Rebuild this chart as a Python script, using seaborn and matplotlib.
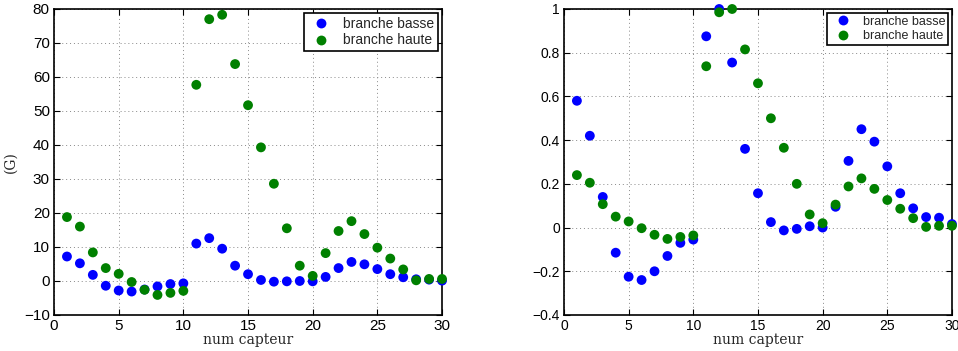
"""
Capteurs : branche basse / branche haute, valeurs brutes (G) et normalisées.
"""

import numpy as np
import pandas as pd
import matplotlib
matplotlib.use("Agg")
import matplotlib.pyplot as plt
from matplotlib.ticker import FuncFormatter
import seaborn as sns

capteurs = list(range(1, 31))

basse_G = [7.2, 5.2, 1.8, -1.4, -2.8, -3.1, -2.5, -1.6, -0.9, -0.7,
           11.0, 12.6, 9.5, 4.5, 2.0, 0.3, -0.2, -0.1, 0.0, -0.1,
           1.2, 3.8, 5.6, 4.9, 3.5, 2.0, 1.1, 0.5, 0.4, 0.1]
haute_G = [18.8, 16.0, 8.4, 3.8, 2.1, -0.3, -2.6, -4.1, -3.5, -2.9,
           57.7, 77.0, 78.3, 63.8, 51.7, 39.3, 28.6, 15.5, 4.5, 1.5,
           8.2, 14.7, 17.6, 13.8, 9.8, 6.6, 3.4, 0.2, 0.6, 0.6]

basse_norm = [0.58, 0.42, 0.14, -0.115, -0.225, -0.24, -0.20, -0.13, -0.07, -0.055,
              0.875, 1.0, 0.755, 0.36, 0.157, 0.025, -0.013, -0.006, 0.006, 0.0,
              0.095, 0.305, 0.45, 0.393, 0.28, 0.157, 0.088, 0.048, 0.045, 0.016]
haute_norm = [0.24, 0.205, 0.107, 0.05, 0.028, -0.003, -0.033, -0.052, -0.043, -0.036,
              0.738, 0.985, 1.0, 0.815, 0.66, 0.50, 0.365, 0.20, 0.06, 0.02,
              0.105, 0.188, 0.225, 0.177, 0.126, 0.086, 0.043, 0.003, 0.008, 0.008]

series = ["branche basse", "branche haute"]
couleurs = {"branche basse": (0, 0, 1), "branche haute": (0, 0.5, 0)}


def to_long(basse, haute):
    return pd.DataFrame({
        "capteur": capteurs * 2,
        "valeur": basse + haute,
        "branche": [series[0]] * len(basse) + [series[1]] * len(haute),
    })


sns.set_style("ticks")
plt.rcParams["font.family"] = ["Liberation Sans", "DejaVu Sans"]

fig = plt.figure(figsize=(9.58, 3.51), dpi=100)
ax1 = fig.add_axes([0.0564, 0.1026, 0.405, 0.8718])
ax2 = fig.add_axes([0.5887, 0.1026, 0.405, 0.8718])


def style_axes(ax, ylim, yticks, tick_size, leg_size):
    ax.set_xlim(0, 30)
    ax.set_ylim(*ylim)
    ax.set_xticks(range(0, 31, 5))
    ax.set_yticks(yticks)
    ax.yaxis.set_major_formatter(FuncFormatter(lambda v, p: ("%g" % round(v, 6)).replace("-", "\u2212")))
    ax.tick_params(direction="in", top=True, right=True, length=4, width=0.8,
                   labelsize=tick_size, colors="black", pad=3)
    ax.grid(True, linestyle=(0, (1, 3)), color="#888888", linewidth=0.7)
    ax.set_axisbelow(True)
    for sp in ax.spines.values():
        sp.set_visible(True)
        sp.set_linewidth(1.2)
        sp.set_color("black")
    ax.set_xlabel("num capteur", family="DejaVu Serif", fontsize=10, labelpad=0)
    leg = ax.legend(loc="upper right", fontsize=leg_size, frameon=True, fancybox=False,
                    borderaxespad=0.3, handletextpad=0.6, borderpad=0.25,
                    labelspacing=0.2, markerscale=1.0)
    leg.get_frame().set_edgecolor("black")
    leg.get_frame().set_linewidth(1.2)
    leg.get_frame().set_alpha(1)


for ax, (b, h) in [(ax1, (basse_G, haute_G)), (ax2, (basse_norm, haute_norm))]:
    df = to_long(b, h)
    sns.scatterplot(data=df, x="capteur", y="valeur", hue="branche", hue_order=series,
                    palette=couleurs, s=50, linewidth=0, ax=ax, clip_on=False, zorder=3)

style_axes(ax1, (-10, 80), np.arange(-10, 81, 10), 11, 10)
style_axes(ax2, (-0.4, 1.0), np.arange(-0.4, 1.01, 0.2), 10, 9)
ax1.set_ylabel("(G)", family="DejaVu Serif", fontsize=10)
ax1.yaxis.set_label_coords(-0.095, 0.5)
ax2.set_ylabel("")

fig.savefig("out.png", dpi=100)
